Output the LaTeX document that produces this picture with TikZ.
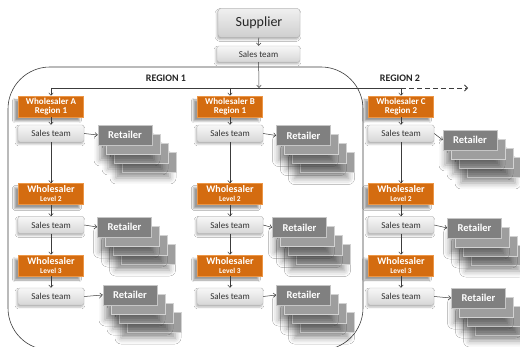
\documentclass[tikz,border=0pt]{standalone}
\usepackage{fontspec}
\setmainfont{Carlito}
\usetikzlibrary{shadows.blur,arrows.meta}
\definecolor{orng}{RGB}{212,108,16}
\definecolor{orngedge}{RGB}{236,150,70}
\definecolor{retfront}{RGB}{128,128,128}
\definecolor{retback}{RGB}{158,158,158}
\definecolor{lnk}{RGB}{60,60,60}
\tikzset{
  supbox/.style={rectangle, rounded corners=3pt, draw=gray!65, top color=gray!12, bottom color=gray!38,
    minimum width=82, minimum height=29, font=\fontsize{14}{14}\selectfont, text=black!85,
    blur shadow={shadow xshift=-1pt, shadow yshift=-2pt, shadow opacity=30}},
  salesbox/.style={rectangle, rounded corners=2pt, draw=gray!55, top color=gray!6, bottom color=gray!32,
    minimum width=66, minimum height=17, inner sep=0pt, font=\fontsize{9}{9}\selectfont, text=black!80,
    blur shadow={shadow xshift=-1pt, shadow yshift=-2pt, shadow opacity=30}},
  whbox/.style={rectangle, fill=orng, draw=orngedge, line width=0.6pt, text=white, align=center,
    minimum width=65, minimum height=21, inner sep=1pt, font=\bfseries\fontsize{9}{9.5}\selectfont,
    blur shadow={shadow xshift=-4pt, shadow yshift=-4pt, shadow opacity=40}},
  retbox/.style={rectangle, fill=retfront, draw=gray!45, line width=0.6pt, text=white,
    minimum width=54, minimum height=20, inner sep=0pt, font=\bfseries\fontsize{10.5}{10.5}\selectfont},
  retbk/.style={rectangle, fill=retback, draw=gray!35, line width=0.6pt,
    minimum width=54, minimum height=20, inner sep=0pt,
    blur shadow={shadow xshift=-6pt, shadow yshift=-6pt, shadow opacity=40, shadow blur radius=6pt}},
  lbl/.style={font=\bfseries\fontsize{10}{10}\selectfont, text=black!85},
  conn/.style={draw=lnk, line width=0.5pt, -{Straight Barb[length=2.5pt,width=4.5pt]}},
  plainline/.style={draw=lnk, line width=0.5pt}
}
\newcommand{\lvl}[1]{Wholesaler\\[-1pt]{\fontsize{7.5}{7.5}\selectfont Level #1}}
\newcommand{\retstack}[3]{%
  \foreach \k in {3,2,1} {
    \node[retbk] (#1b\k) at (#2+\k*8,#3+\k*9) {};
  }
  \node[retbox] (#1) at (#2,#3) {Retailer};
}
\begin{document}
\begin{tikzpicture}[x=1pt,y=-1pt]
\useasboundingbox (0,0) rectangle (520,347);
\fill[white] (0,0) rectangle (520,347);
\clip (0,0) rectangle (520,347);

% region outline
\draw[draw=lnk, line width=0.6pt, rounded corners=42] (8,67) rectangle (363,350);

% supplier
\node[supbox] (sup) at (259,23) {Supplier};
\node[salesbox, minimum width=83, minimum height=16] (s0) at (258.5,54) {Sales team};
\draw[conn] (sup) -- (s0);

% distribution line
\coordinate (lA) at (51,88);
\coordinate (lB) at (230,88);
\coordinate (l0) at (259,88);
\coordinate (lC) at (401,88);
\coordinate (lE) at (468,88);
\draw[plainline] (lA) -- (lC);
\draw[conn, dash pattern=on 5pt off 3pt, line width=0.8pt, -{Straight Barb[length=3pt,width=6pt]}] (lC) -- (lE);
\draw[conn] (s0) -- (l0);

\node[lbl] (r1) at (166,78) {REGION 1};
\node[lbl] (r2) at (400,78) {REGION 2};

% column A
\node[whbox] (wA) at (51,106.5) {Wholesaler A\\Region 1};
\node[salesbox] (sA) at (51,133.5) {Sales team};
\node[whbox, font=\bfseries\fontsize{10}{10}\selectfont] (w2A) at (51,194) {\lvl{2}};
\node[salesbox] (s2A) at (51,225) {Sales team};
\node[whbox, font=\bfseries\fontsize{10}{10}\selectfont] (w3A) at (51,265.5) {\lvl{3}};
\node[salesbox] (s3A) at (51,296.5) {Sales team};

% column B
\node[whbox] (wB) at (230,106.5) {Wholesaler B\\Region 1};
\node[salesbox] (sB) at (230,133.5) {Sales team};
\node[whbox, font=\bfseries\fontsize{10}{10}\selectfont] (w2B) at (230,194) {\lvl{2}};
\node[salesbox] (s2B) at (230,225) {Sales team};
\node[whbox, font=\bfseries\fontsize{10}{10}\selectfont] (w3B) at (230,265.5) {\lvl{3}};
\node[salesbox] (s3B) at (230,296.5) {Sales team};

% column C
\node[whbox] (wC) at (401,106.5) {Wholesaler C\\Region 2};
\node[salesbox] (sC) at (401,133.5) {Sales team};
\node[whbox, font=\bfseries\fontsize{10}{10}\selectfont] (w2C) at (401,194) {\lvl{2}};
\node[salesbox] (s2C) at (401,225) {Sales team};
\node[whbox, font=\bfseries\fontsize{10}{10}\selectfont] (w3C) at (401,265.5) {\lvl{3}};
\node[salesbox] (s3C) at (401,296.5) {Sales team};

% retailers
\retstack{rA1}{125}{135}
\retstack{rA2}{124.5}{227}
\retstack{rA3}{130}{295}
\retstack{rB1}{303.5}{135.5}
\retstack{rB2}{299.5}{227.5}
\retstack{rB3}{303.5}{295}
\retstack{rC1}{470}{140}
\retstack{rC2}{474.5}{228}
\retstack{rC3}{478.5}{298}

% vertical connectors
\foreach \c in {A,B,C} {
  \draw[conn] (l\c) -- (w\c);
  \draw[conn] (w\c) -- (s\c);
  \draw[conn] (s\c) -- (w2\c);
  \draw[conn] (w2\c) -- (s2\c);
  \draw[conn] (s2\c) -- (w3\c);
  \draw[conn] (w3\c) -- (s3\c);
  \draw[conn] (s\c.east) -- (r\c1.west);
  \draw[conn] (s2\c.east) -- (r\c2.west);
  \draw[conn] (s3\c.east) -- (r\c3.west);
}
\end{tikzpicture}
\end{document}
